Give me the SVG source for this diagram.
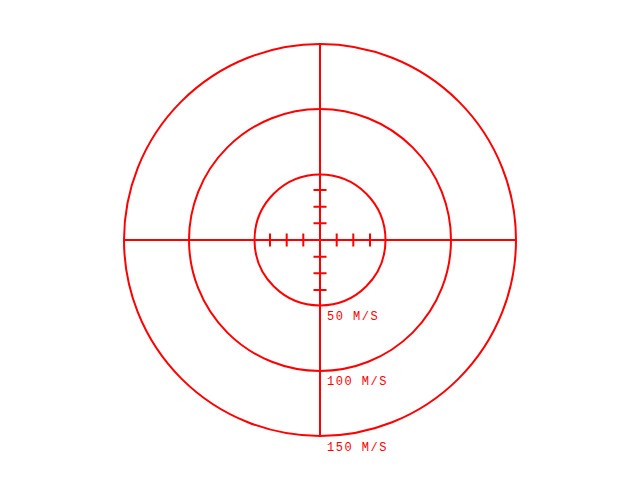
<svg xmlns="http://www.w3.org/2000/svg" width="640" height="480" viewBox="0 0 640 480">
<style>
.c{fill:none;stroke:#ff0000;stroke-width:2}
.l{stroke:#ff0000;stroke-width:2;fill:none}
.t{fill:#ff0000;font-family:"Liberation Mono",monospace;font-size:12px;letter-spacing:1.5px}
</style>
<rect width="640" height="480" fill="#ffffff"/>
<g id="ring50"><circle class="c" cx="320" cy="240" r="65.5"/></g>
<g id="ring100"><circle class="c" cx="320" cy="240" r="131"/></g>
<g id="ring150"><circle class="c" cx="320" cy="240" r="196"/></g>
<g id="connectors">
<line class="l" x1="124" y1="240" x2="516" y2="240"/>
<line class="l" x1="320" y1="44" x2="320" y2="436"/>
<path class="l" d="M270 233.5V246.5M286.7 233.5V246.5M303.3 233.5V246.5M336.7 233.5V246.5M353.3 233.5V246.5M370 233.5V246.5M313.5 190H326.5M313.5 206.7H326.5M313.5 223.3H326.5M313.5 256.7H326.5M313.5 273.3H326.5M313.5 290H326.5"/>
</g>
<g id="labels">
<text class="t" x="327" y="320">50 M/S</text>
<text class="t" x="327" y="385">100 M/S</text>
<text class="t" x="327" y="451">150 M/S</text>
</g>
</svg>
